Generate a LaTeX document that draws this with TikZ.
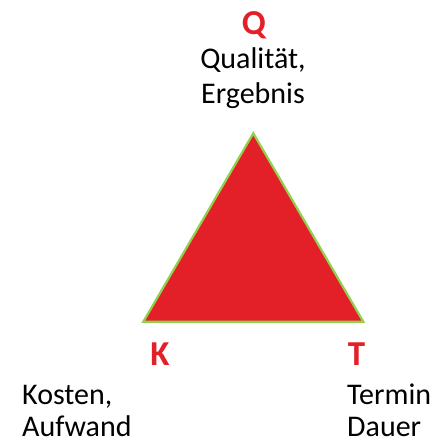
\documentclass[tikz,border=0pt]{standalone}
\usepackage{fontspec}
\setmainfont{Carlito}
\definecolor{trired}{HTML}{E31F28}
\definecolor{trigreen}{HTML}{92D050}
\begin{document}
\begin{tikzpicture}[x=1pt,y=-1pt,
  lbl/.style={inner sep=0pt,font=\fontsize{30}{36}\selectfont,text=black},
  letter/.style={inner sep=0pt,font=\fontsize{35}{40}\selectfont\bfseries,text=trired}]
\useasboundingbox (0,0) rectangle (436,440);
\coordinate (A) at (253.3,133.3);
\coordinate (B) at (143.3,321.7);
\coordinate (C) at (363.3,321.7);
\filldraw[fill=trired,draw=trigreen,line width=2.2pt,line join=miter] (A) -- (B) -- (C) -- cycle;
\node[letter,anchor=base] (q) at (254,34) {Q};
\node[lbl,anchor=base] (q1) at (253,68.5) {Qualität,};
\node[lbl,anchor=base] (q2) at (253,103.5) {Ergebnis};
\node[letter,anchor=base] (k) at (160,365) {K};
\node[letter,anchor=base] (t) at (356.5,365) {T};
\node[lbl,anchor=base west] (k1) at (22,404) {Kosten,};
\node[lbl,anchor=base west] (k2) at (22,436) {Aufwand};
\node[lbl,anchor=base west] (t1) at (347,404) {Termin};
\node[lbl,anchor=base west] (t2) at (347,436) {Dauer};
\end{tikzpicture}
\end{document}
